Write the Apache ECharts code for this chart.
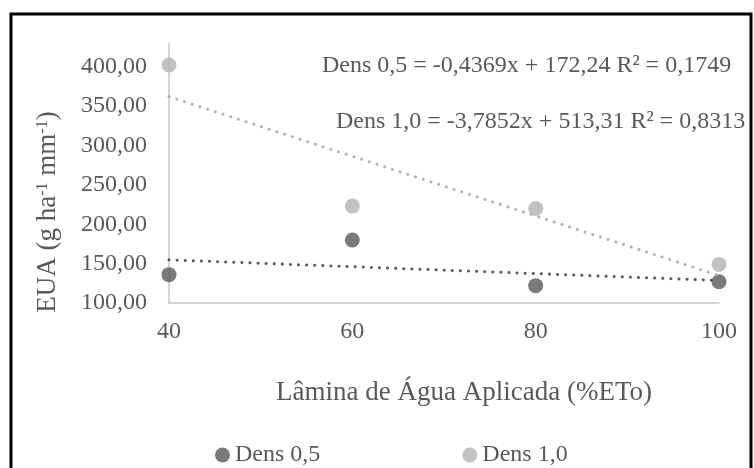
<!DOCTYPE html>
<html>
<head>
<meta charset="utf-8">
<script src="https://cdn.jsdelivr.net/npm/echarts@6/dist/echarts.min.js"></script>
<style>
  html, body { margin: 0; padding: 0; background: #fff; overflow: hidden; }
  #main { width: 754px; height: 468px; }
</style>
</head>
<body>
<div id="main"></div>
<script>
const xValues = [40, 60, 80, 100];
const dens05 = [136, 180, 122, 127];
const dens10 = [402, 223, 220, 149];
// trend line ends read at x = 40 and x = 100
const trendX = [40, 100];
const trend05 = [154.8, 128.6];
const trend10 = [361.9, 134.8];
const eqLabels = [
  "Dens 0,5 = -0,4369x + 172,24 R² = 0,1749",
  "Dens 1,0 = -3,7852x + 513,31 R² = 0,8313",
];

const FONT = "Liberation Serif";
const TEXT = "#595959";
const DARK = "#595959";
const LIGHT = "#b3b3b3";

function pairs(xs, ys) {
  return xs.map((x, i) => [x, ys[i]]);
}

function chartOption() {
  return {
    animation: false,
    textStyle: { fontFamily: FONT },
    grid: { left: 169, right: 35, top: 43, bottom: 165 },
    xAxis: {
      type: "value",
      min: 40,
      max: 100,
      interval: 20,
      name: "Lâmina de Água Aplicada (%ETo)",
      nameLocation: "middle",
      nameGap: 76,
      nameTextStyle: { fontFamily: FONT, fontSize: 27, color: TEXT, padding: [0, 0, 0, 40] },
      axisLine: { lineStyle: { color: "#c8c8c8", width: 1.5 } },
      axisTick: { show: false },
      splitLine: { show: false },
      axisLabel: { fontFamily: FONT, fontSize: 24, color: TEXT, margin: 17 },
    },
    yAxis: {
      type: "value",
      min: 100,
      max: 430,
      interval: 50,
      axisLine: { show: true, lineStyle: { color: "#c8c8c8", width: 1.5 } },
      axisTick: { show: false },
      splitLine: { show: false },
      axisLabel: {
        fontFamily: FONT,
        fontSize: 24,
        color: TEXT,
        margin: 22,
        formatter: (v) => (v % 50 === 0 ? v.toFixed(2).replace(".", ",") : ""),
      },
    },
    legend: {
      left: 210,
      top: 438,
      icon: "circle",
      itemWidth: 15,
      itemHeight: 15,
      itemGap: 142,
      textStyle: { fontFamily: FONT, fontSize: 24, color: TEXT },
      data: ["Dens 0,5", "Dens 1,0"],
    },
    graphic: [
      {
        type: "rect",
        shape: { x: 11, y: 14, width: 740, height: 500 },
        style: { fill: "none", stroke: "#000", lineWidth: 3 },
        z: 10,
      },
      {
        type: "text",
        x: 48,
        y: 212,
        rotation: Math.PI / 2,
        style: {
          text: "EUA (g ha{sup|-1} mm{sup|-1})",
          fontFamily: FONT,
          fontSize: 27,
          fill: TEXT,
          align: "center",
          verticalAlign: "middle",
          rich: {
            sup: { fontFamily: FONT, fontSize: 16, fill: TEXT, padding: [0, 0, 11, 0] },
          },
        },
      },
      {
        type: "text",
        x: 322,
        y: 66,
        style: { text: eqLabels[0], fontFamily: FONT, fontSize: 24, fill: TEXT, verticalAlign: "middle" },
      },
      {
        type: "text",
        x: 336,
        y: 122,
        style: { text: eqLabels[1], fontFamily: FONT, fontSize: 24, fill: TEXT, verticalAlign: "middle" },
      },
    ],
    series: [
      {
        name: "Dens 0,5",
        type: "scatter",
        symbolSize: 15,
        itemStyle: { color: DARK },
        data: pairs(xValues, dens05),
      },
      {
        name: "Dens 1,0",
        type: "scatter",
        symbolSize: 15,
        itemStyle: { color: LIGHT },
        data: pairs(xValues, dens10),
      },
      {
        name: "trend 0,5",
        type: "line",
        symbol: "none",
        lineStyle: { color: DARK, width: 3, type: [0.1, 8], cap: "round" },
        data: pairs(trendX, trend05),
      },
      {
        name: "trend 1,0",
        type: "line",
        symbol: "none",
        lineStyle: { color: LIGHT, width: 3, type: [0.1, 8], cap: "round" },
        data: pairs(trendX, trend10),
      },
    ],
  };
}

addEventListener("load", () => {
  const chart = echarts.init(document.getElementById("main"));
  chart.setOption(chartOption());
});
</script>
</body>
</html>
